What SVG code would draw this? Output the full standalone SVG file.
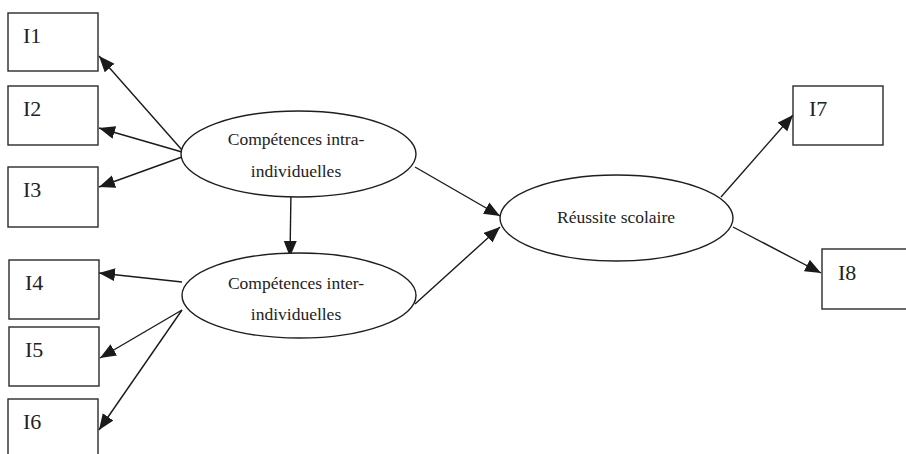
<svg xmlns="http://www.w3.org/2000/svg" width="906" height="454" viewBox="0 0 906 454">
<style>
.box{fill:#fff;stroke:#2a2a2a;stroke-width:1.4}
.ell{fill:#fff;stroke:#1e1e1e;stroke-width:1.4}
.lbl{font-family:"Liberation Serif","Times New Roman",serif;font-size:22px;fill:#222}
.et{font-family:"Liberation Serif","Times New Roman",serif;font-size:17.5px;fill:#222;text-anchor:middle}
.con line{stroke:#1a1a1a;stroke-width:1.4;marker-end:url(#ah)}
</style>
<defs>
<marker id="ah" markerUnits="userSpaceOnUse" markerWidth="18" markerHeight="14" refX="16" refY="6.5" orient="auto">
<path d="M0,0 L16,6.5 L0,13 Z" fill="#1a1a1a"/>
</marker>
</defs>
<rect width="906" height="454" fill="#fff"/>
<g class="con">
<line x1="182" y1="150" x2="99" y2="56"/>
<line x1="182" y1="152" x2="99" y2="128"/>
<line x1="182" y1="157" x2="99" y2="187"/>
<line x1="182" y1="282" x2="99" y2="273"/>
<line x1="182" y1="310" x2="100" y2="358"/>
<line x1="182" y1="310" x2="99" y2="430"/>
<line x1="291" y1="190" x2="290" y2="257"/>
<line x1="415" y1="167" x2="500" y2="216"/>
<line x1="415" y1="304" x2="500" y2="227"/>
<line x1="721" y1="197" x2="793" y2="115"/>
<line x1="733" y1="227" x2="821" y2="273"/>
</g>
<g id="I1"><rect class="box" x="8" y="13" width="90" height="58"/><text class="lbl" x="23" y="43">I1</text></g>
<g id="I2"><rect class="box" x="8" y="86" width="90" height="59"/><text class="lbl" x="23" y="116">I2</text></g>
<g id="I3"><rect class="box" x="8" y="167" width="90" height="60"/><text class="lbl" x="23" y="197">I3</text></g>
<g id="I4"><rect class="box" x="9" y="260" width="90" height="59"/><text class="lbl" x="25" y="290">I4</text></g>
<g id="I5"><rect class="box" x="9" y="327" width="90" height="59"/><text class="lbl" x="25" y="357">I5</text></g>
<g id="I6"><rect class="box" x="8" y="399" width="90" height="70"/><text class="lbl" x="23" y="429">I6</text></g>
<g id="I7"><rect class="box" x="793" y="86" width="90" height="59"/><text class="lbl" x="809" y="116">I7</text></g>
<g id="I8"><rect class="box" x="822" y="249" width="95" height="60"/><text class="lbl" x="838" y="280">I8</text></g>
<g id="intra"><ellipse class="ell" cx="298.5" cy="154" rx="117.5" ry="43"/><text class="et" x="296" y="145">Compétences intra-</text><text class="et" x="296" y="177">individuelles</text></g>
<g id="inter"><ellipse class="ell" cx="299" cy="295.5" rx="117" ry="42.5"/><text class="et" x="296" y="289">Compétences inter-</text><text class="et" x="296" y="320">individuelles</text></g>
<g id="reussite"><ellipse class="ell" cx="616.5" cy="218" rx="116.5" ry="43"/><text class="et" x="616" y="223">Réussite scolaire</text></g>
</svg>
